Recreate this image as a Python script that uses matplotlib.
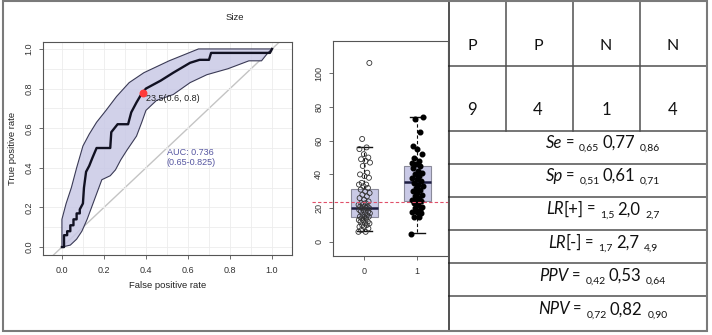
import numpy as np
import matplotlib
matplotlib.use("Agg")
import matplotlib.pyplot as plt
from matplotlib.patches import Polygon, Rectangle

# ---- ROC data ----
roc_fpr = [0, 0.01, 0.01, 0.025, 0.025, 0.04, 0.04, 0.055, 0.055, 0.07, 0.07, 0.085, 0.085,
           0.10, 0.105, 0.115, 0.13, 0.145, 0.165, 0.23, 0.235, 0.265, 0.315, 0.33, 0.355,
           0.38, 0.40, 0.47, 0.53, 0.61, 0.655, 0.70, 0.71, 0.99, 1.0]
roc_tpr = [0, 0, 0.06, 0.06, 0.08, 0.08, 0.11, 0.11, 0.14, 0.14, 0.17, 0.17, 0.19,
           0.22, 0.30, 0.38, 0.41, 0.45, 0.50, 0.50, 0.58, 0.62, 0.62, 0.68, 0.73,
           0.775, 0.80, 0.84, 0.88, 0.93, 0.945, 0.945, 0.98, 0.98, 1.0]
ci_hi_fpr = [0, 0, 0.02, 0.045, 0.07, 0.10, 0.13, 0.165, 0.21, 0.26, 0.32, 0.39, 0.45,
             0.51, 0.58, 0.65, 1.0]
ci_hi_tpr = [0, 0.14, 0.22, 0.30, 0.40, 0.51, 0.57, 0.63, 0.69, 0.76, 0.83, 0.88, 0.91,
             0.94, 0.97, 1.0, 1.0]
ci_lo_fpr = [0, 0.04, 0.07, 0.095, 0.12, 0.155, 0.19, 0.23, 0.255, 0.28, 0.31, 0.355,
             0.38, 0.40, 0.45, 0.53, 0.61, 0.69, 0.79, 0.89, 0.95, 0.98, 1.0]
ci_lo_tpr = [0, 0.01, 0.04, 0.08, 0.14, 0.24, 0.34, 0.36, 0.39, 0.44, 0.49, 0.56,
             0.63, 0.69, 0.74, 0.77, 0.83, 0.87, 0.90, 0.94, 0.94, 0.98, 1.0]
best_fpr, best_tpr = 0.384, 0.776
best_label = "23.5(0.6, 0.8)"
auc_label = "AUC: 0.736\n(0.65-0.825)"

# ---- boxplot data ----
groups = ["0", "1"]
size_neg = [6, 6, 7, 8, 9, 9, 10, 10, 11, 11, 12, 12, 13, 13, 14, 14, 15, 15, 15, 16, 16,
            17, 17, 18, 18, 19, 19, 20, 20, 20, 21, 21, 21, 22, 22, 23, 23, 24, 25, 26, 27,
            28, 29, 30, 31, 32, 33, 34, 34, 35, 38, 39, 40, 41, 45, 47, 48, 49, 50, 52, 55,
            56, 61, 106]
size_pos = [5, 15, 15, 17, 18, 18, 19, 20, 21, 22, 23, 24, 24, 25, 26, 27, 28, 29, 30, 31,
            32, 33, 34, 35, 36, 37, 38, 39, 40, 41, 42, 44, 45, 46, 47, 48, 50, 52, 55, 57,
            65, 73, 74]
box_q1 = [14.6, 24.3]
box_med = [20.3, 35.7]
box_q3 = [31.2, 45.2]
box_lo = [6.5, 5.1]
box_hi = [56.4, 74.0]
cutoff = 23.5

# ---- table ----
head_row = ["P", "P", "N", "N"]
count_row = ["9", "4", "1", "4"]
stat_names = [("Se", ""), ("Sp", ""), ("LR", "[+]"), ("LR", "[-]"), ("PPV", ""), ("NPV", "")]
stat_lo = ["0,65", "0,51", "1,5", "1,7", "0,42", "0,72"]
stat_mid = ["0,77", "0,61", "2,0", "2,7", "0,53", "0,82"]
stat_hi = ["0,86", "0,71", "2,7", "4,9", "0,64", "0,90"]

W, H = 712, 335
RFONT = "Liberation Sans"
TFONT = "Lato"
LAV = "#c9c9e6"


def px_axes(x0, y0, x1, y1):
    return fig.add_axes([x0 / W, 1 - y1 / H, (x1 - x0) / W, (y1 - y0) / H])


def r_style(ax):
    for s in ax.spines.values():
        s.set_color("#555555"); s.set_linewidth(0.8)
    ax.tick_params(direction="out", length=3, width=0.6, colors="#555555",
                   labelcolor="#333333", labelsize=6.5)
    for lab in ax.get_xticklabels() + ax.get_yticklabels():
        lab.set_fontfamily(RFONT)


fig = plt.figure(figsize=(W / 100, H / 100), dpi=100)

# ROC panel
ax = px_axes(43, 42, 292, 255)
ax.set_xlim(-0.09, 1.095); ax.set_ylim(-0.04, 1.035)
ax.set_xticks(np.arange(0, 1.01, 0.2)); ax.set_yticks(np.arange(0, 1.01, 0.2))
ax.set_xticks(np.arange(0, 1.01, 0.1), minor=True); ax.set_yticks(np.arange(0, 1.01, 0.1), minor=True)
ax.tick_params(which="minor", length=0)
ax.grid(which="both", color="#ececec", lw=0.6, zorder=0)
ax.set_xticklabels(["%.1f" % v for v in np.arange(0, 1.01, 0.2)])
ax.set_yticklabels(["%.1f" % v for v in np.arange(0, 1.01, 0.2)], rotation=90, va="center")
ax.tick_params(axis="x", pad=5); ax.tick_params(axis="y", pad=4)
r_style(ax)
ax.plot([-0.1, 1.1], [-0.1, 1.1], color="#c4c4c4", lw=1, zorder=1)
band = list(zip(ci_hi_fpr, ci_hi_tpr)) + list(zip(ci_lo_fpr, ci_lo_tpr))[::-1]
ax.add_patch(Polygon(band, closed=True, facecolor=LAV, edgecolor="none", alpha=0.85, zorder=2))
ax.plot(ci_hi_fpr, ci_hi_tpr, color="#3a3a55", lw=0.8, zorder=3)
ax.plot(ci_lo_fpr, ci_lo_tpr, color="#3a3a55", lw=0.8, zorder=3)
ax.plot(roc_fpr, roc_tpr, color="#111122", lw=1.7, zorder=4)
ax.scatter([best_fpr], [best_tpr], s=22, color="#ff3b3b", zorder=5)
ax.text(best_fpr + 0.015, best_tpr - 0.028, best_label, fontsize=6.5, family=RFONT,
        color="#222222", va="center", zorder=6)
ax.text(0.5, 0.452, auc_label, fontsize=6.5, family=RFONT, color="#5555a0",
        va="center", ha="left", linespacing=1.15, zorder=6)
fig.text(167.5 / W, 1 - 285 / H, "False positive rate", ha="center", va="center",
         fontsize=6.8, family=RFONT, color="#222222")
fig.text(13 / W, 1 - 148 / H, "True positive rate", ha="center", va="center",
         rotation=90, fontsize=6.8, family=RFONT, color="#222222")
fig.text(235 / W, 1 - 17 / H, "Size", ha="center", va="center",
         fontsize=6.8, family=RFONT, color="#222222")

# boxplot panel
bx = px_axes(333, 41, 448, 256)
bx.set_xlim(-0.59, 1.58); bx.set_ylim(-8.3, 119)
stats = [dict(med=m, q1=a, q3=b, whislo=lo, whishi=hi, label=g)
         for g, m, a, b, lo, hi in zip(groups, box_med, box_q1, box_q3, box_lo, box_hi)]
bx.bxp(stats, positions=[0, 1], widths=0.5, showfliers=False, patch_artist=True,
       capwidths=0.28,
       boxprops=dict(facecolor=LAV, edgecolor="#8a8a9a", lw=0.8),
       medianprops=dict(color="#1c1c40", lw=1.8),
       whiskerprops=dict(color="#111111", lw=0.8, ls=(0, (3, 2))),
       capprops=dict(color="#111111", lw=1.0))
for pos, vals, filled in ((0, size_neg, False), (1, size_pos, True)):
    jit = ((np.arange(len(vals)) * 0.618034) % 1 - 0.5) * 0.22
    if filled:
        bx.scatter(pos + jit, vals, s=11, color="#000000", zorder=4)
    else:
        bx.scatter(pos + jit, vals, s=13, facecolors="none", edgecolors="#333333",
                   linewidths=0.6, zorder=4)
bx.axhline(cutoff, xmin=-0.18, xmax=1, color="#e0506a", lw=0.8, ls=(0, (3, 2)),
           clip_on=False, zorder=5)
bx.set_yticks(np.arange(0, 101, 20))
bx.set_yticklabels([str(v) for v in range(0, 101, 20)], rotation=90, va="center")
bx.set_xticks([0, 1]); bx.set_xticklabels(groups)
bx.tick_params(axis="x", pad=5); bx.tick_params(axis="y", pad=4)
r_style(bx)

# table panel, data coords = pixels
tx = fig.add_axes([448 / W, 0, (707 - 448) / W, 1])
tx.set_xlim(448, 707); tx.set_ylim(H, 0); tx.axis("off")
tx.add_patch(Rectangle((448, 0), 259, 331, facecolor="white", edgecolor="none"))
LC = "#505050"
for y in (65.7, 131, 164.3, 197.3, 230, 263.3, 296):
    tx.plot([448, 707], [y, y], color=LC, lw=1.1)
for x in (505.7, 572.7, 640):
    tx.plot([x, x], [0, 131], color=LC, lw=1.1)
tx.plot([448.5, 448.5], [0, 331], color="#222222", lw=1.1)
for x, h, c in zip((472, 538, 606, 673), head_row, count_row):
    tx.text(x, 50, h, ha="center", va="baseline", fontsize=11.5, family=TFONT, color="#111111")
    tx.text(x, 115, c, ha="center", va="baseline", fontsize=12, family=TFONT, color="#111111")

r = fig.canvas.get_renderer()


def rich(xc, y, parts):
    objs = []
    for s, size, style, dy, gap in parts:
        t = tx.text(0, y + dy, s, fontsize=size, style=style, family=TFONT,
                    ha="left", va="baseline", color="#111111")
        objs.append((t, gap))
    widths = [t.get_window_extent(r).width for t, _ in objs]
    total = sum(widths) + sum(g for _, g in objs[:-1])
    x = xc - total / 2
    for (t, gap), w in zip(objs, widths):
        t.set_x(x)
        x += w + gap


for i, (nm, br) in enumerate(stat_names):
    yb = 147.7 + 33.3 * i
    parts = [(nm, 12, "italic", 0, 0 if br else 3)]
    if br:
        parts.append((br, 12, "normal", 0, 3))
    parts += [("=", 10.5, "normal", 0, 5), (stat_lo[i], 7.5, "normal", 3, 3),
              (stat_mid[i], 12, "normal", 0, 5), (stat_hi[i], 7.5, "normal", 3, 0)]
    rich(603, yb, parts)

# outer frame
fig.add_artist(Rectangle((3 / W, 1 - 331 / H), 704 / W, 330 / H, transform=fig.transFigure,
                         fill=False, edgecolor="#7a7a7a", lw=1.5))

fig.savefig("out.png", dpi=100)
